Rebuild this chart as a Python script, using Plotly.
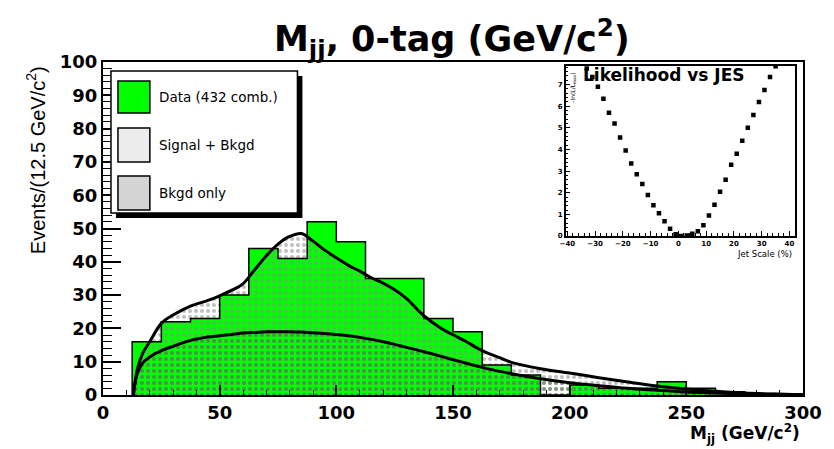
import plotly.graph_objects as go

# ---------------- data ----------------
bin_lo = [12.5, 25, 37.5, 50, 62.5, 75, 87.5, 100, 112.5, 125, 137.5, 150,
          162.5, 175, 187.5, 200, 212.5, 225, 237.5, 250, 262.5, 275, 287.5]
data_counts = [16, 22, 23, 30, 44, 41, 52, 46, 35, 35, 23, 19,
               9, 6, 0, 3, 2, 2, 4, 2, 1, 0, 0]
bin_width = 12.5

curve_x = [13, 14, 15, 17, 20, 25, 30, 37.5, 45, 50, 55, 60, 65, 70, 75, 80, 85,
           90, 95, 100, 105, 110, 115, 120, 125, 130, 137.5, 145, 150, 155, 162.5,
           170, 175, 187.5, 200, 212.5, 225, 237.5, 250, 262.5, 275, 287.5, 300]
sig_bkg = [0, 5, 8.5, 12.5, 16, 21.5, 24, 26.7, 28.4, 29.8, 31.4, 33.4, 37.6, 41.8,
           45.3, 47.6, 48.5, 46.2, 43.5, 41.2, 39, 37.2, 35.2, 33.6, 31.6, 29, 23.8,
           20, 18.1, 16.3, 13.3, 11.2, 9.8, 7.9, 6.6, 5.2, 3.9, 2.7, 1.8, 1.1, 0.6,
           0.3, 0.1]
bkg_only = [0, 4.5, 7, 9.6, 11.4, 13.3, 14.6, 16.4, 17.4, 17.8, 18.2, 18.6, 18.8,
            19.0, 19.0, 19.0, 18.9, 18.7, 18.5, 18.2, 17.8, 17.3, 16.7, 16.0, 15.2,
            14.3, 13.0, 11.6, 10.6, 9.7, 8.3, 7.1, 6.4, 4.9, 3.7, 2.8, 2.0, 1.4, 0.9,
            0.6, 0.35, 0.2, 0.1]

jes = [-33, -31, -29, -27, -25, -23, -21, -19, -17, -15, -13, -11, -9, -7, -5, -3,
       -1, 1, 3, 5, 7, 9, 11, 13, 15, 17, 19, 21, 23, 25, 27, 29, 31, 33, 35]
neg_lnl = [7.75, 7.35, 6.9, 6.35, 5.7, 5.2, 4.55, 3.95, 3.35, 2.85, 2.4, 1.9, 1.42,
           1.05, 0.68, 0.33, 0.08, 0.0, 0.02, 0.1, 0.22, 0.5, 0.95, 1.45, 2.05, 2.6,
           3.3, 3.8, 4.4, 5.0, 5.6, 6.2, 6.75, 7.35, 7.85]

x_ticks = [0, 50, 100, 150, 200, 250, 300]
y_ticks = [0, 10, 20, 30, 40, 50, 60, 70, 80, 90, 100]

# ---------------- layout helpers ----------------
W, H = 834, 449
L, R, T, B = 103, 805, 62, 395


def px(x):
    return (x - L) / (R - L)


def py(y):
    return (B - y) / (B - T)


BOLD = dict(family="DejaVu Sans", color="black", weight="bold")

fig = go.Figure()

# data histogram (filled)
centers = [b + bin_width / 2 for b in bin_lo]
fig.add_trace(go.Bar(x=centers, y=data_counts, width=bin_width,
                     marker=dict(color="#00ff00", line=dict(width=0)),
                     showlegend=False))

# signal + background (dotted fill)
fig.add_trace(go.Scatter(x=curve_x, y=sig_bkg, mode="lines", line=dict(color="black", width=3, shape="spline"),
                         fill="tozeroy", fillcolor="rgba(0,0,0,0)",
                         fillpattern=dict(shape=".", fgcolor="rgba(140,140,140,0.55)",
                                          bgcolor="rgba(0,0,0,0)", size=6, solidity=0.35,
                                          fillmode="replace"),
                         showlegend=False))
# background only (denser dots)
fig.add_trace(go.Scatter(x=curve_x, y=bkg_only, mode="lines", line=dict(color="black", width=3, shape="spline"),
                         fill="tozeroy", fillcolor="rgba(0,0,0,0)",
                         fillpattern=dict(shape=".", fgcolor="rgba(70,110,70,0.55)",
                                          bgcolor="rgba(0,0,0,0)", size=6, solidity=0.35,
                                          fillmode="replace"),
                         showlegend=False))

# data histogram outline (step)
step_x = [bin_lo[0]] + bin_lo + [bin_lo[-1] + bin_width]
step_y = [0] + data_counts + [0]
fig.add_trace(go.Scatter(x=step_x, y=step_y, mode="lines",
                         line=dict(color="black", width=1.5, shape="hv"),
                         showlegend=False))

# inset likelihood curve
fig.add_trace(go.Scatter(x=jes, y=neg_lnl, mode="markers", xaxis="x2", yaxis="y2",
                         marker=dict(symbol="square", size=4.5, color="black", line=dict(width=0)),
                         showlegend=False))

fig.update_layout(
    width=W, height=H,
    margin=dict(l=L, r=W - R, t=T, b=H - B),
    paper_bgcolor="white", plot_bgcolor="white",
    bargap=0,
    xaxis=dict(range=[0, 300], tickvals=x_ticks, ticktext=[str(v) for v in x_ticks],
               showline=True, mirror=True, linecolor="black", linewidth=2,
               ticks="inside", ticklen=10, tickwidth=1.5, tickcolor="black",
               minor=dict(dtick=10, tick0=0, ticks="inside", ticklen=5, tickwidth=1.2, tickcolor="black"),
               tickfont=dict(size=18, **BOLD), showgrid=False, zeroline=False),
    yaxis=dict(range=[0, 100], tickvals=y_ticks, ticktext=[str(v) for v in y_ticks],
               showline=True, mirror=True, linecolor="black", linewidth=2,
               ticks="inside", ticklen=18, tickwidth=1.5, tickcolor="black",
               minor=dict(dtick=2, tick0=0, ticks="inside", ticklen=9, tickwidth=1.2, tickcolor="black"),
               tickfont=dict(size=18, **BOLD), showgrid=False, zeroline=False),
    xaxis2=dict(domain=[px(567), px(797)], anchor="y2", range=[-40.6, 42],
                dtick=10, tick0=0, showline=True, mirror=True, linecolor="black", linewidth=1.5,
                ticks="inside", ticklen=5, tickcolor="black",
                minor=dict(dtick=2, ticks="inside", ticklen=3, tickcolor="black"),
                tickfont=dict(size=7, **BOLD), showgrid=False, zeroline=False),
    yaxis2=dict(domain=[py(236), py(66)], anchor="x2", range=[0, 7.86],
                dtick=1, tick0=0, showline=True, mirror=True, linecolor="black", linewidth=1.5,
                ticks="inside", ticklen=5, tickcolor="black",
                minor=dict(dtick=0.2, ticks="inside", ticklen=3, tickcolor="black"),
                tickfont=dict(size=7, **BOLD), showgrid=False, zeroline=False),
)

shapes = []
# legend shadow + box
shapes.append(dict(type="rect", xref="paper", yref="paper", x0=px(116), x1=px(303), y0=py(218), y1=py(76),
                   fillcolor="black", line=dict(width=0)))
shapes.append(dict(type="rect", xref="paper", yref="paper", x0=px(111), x1=px(298), y0=py(213), y1=py(71),
                   fillcolor="white", line=dict(color="black", width=1.5)))
# legend swatches
sw = [("#00ff00", 81, 113), ("#ececec", 128, 162), ("#d4d4d4", 176, 210)]
for col, y0, y1 in sw:
    shapes.append(dict(type="rect", xref="paper", yref="paper", x0=px(118), x1=px(150), y0=py(y1), y1=py(y0),
                       fillcolor=col, line=dict(color="black", width=1.5)))
fig.update_layout(shapes=shapes)

ann = []
ann.append(dict(text="M<sub>jj</sub>, 0-tag (GeV/c<sup>2</sup>)", x=px(453), y=py(38), xref="paper", yref="paper",
                showarrow=False, xanchor="center", yanchor="middle", font=dict(size=35, **BOLD)))
ann.append(dict(text="Events/(12.5 GeV/c<sup>2</sup>)", x=px(35), y=py(160), xref="paper", yref="paper",
                textangle=-90, showarrow=False, xanchor="center", yanchor="middle",
                font=dict(size=20, family="Liberation Sans", color="black")))
ann.append(dict(text="M<sub>jj</sub> (GeV/c<sup>2</sup>)", x=px(804), y=py(433), xref="paper", yref="paper",
                showarrow=False, xanchor="right", yanchor="middle", font=dict(size=17, **BOLD)))
for txt, yc in [("Data (432 comb.)", 97), ("Signal + Bkgd", 145), ("Bkgd only", 193)]:
    ann.append(dict(text=txt, x=px(157), y=py(yc), xref="paper", yref="paper", showarrow=False,
                    xanchor="left", yanchor="middle", font=dict(size=13.5, family="DejaVu Sans", color="black")))
ann.append(dict(text="Likelihood vs JES", x=px(582), y=py(75), xref="paper", yref="paper", showarrow=False,
                xanchor="left", yanchor="middle", font=dict(size=17, **BOLD)))
ann.append(dict(text="Jet Scale (%)", x=px(796), y=py(254), xref="paper", yref="paper", showarrow=False,
                xanchor="right", yanchor="middle", font=dict(size=8.5, family="DejaVu Sans", color="black")))
ann.append(dict(text="-ln(L/L<sub>max</sub>)", x=px(574), y=py(88), xref="paper", yref="paper", showarrow=False,
                textangle=-90, xanchor="center", yanchor="middle", font=dict(size=6, family="DejaVu Sans", color="black")))
fig.update_layout(annotations=ann)

fig.write_html("out.html")
